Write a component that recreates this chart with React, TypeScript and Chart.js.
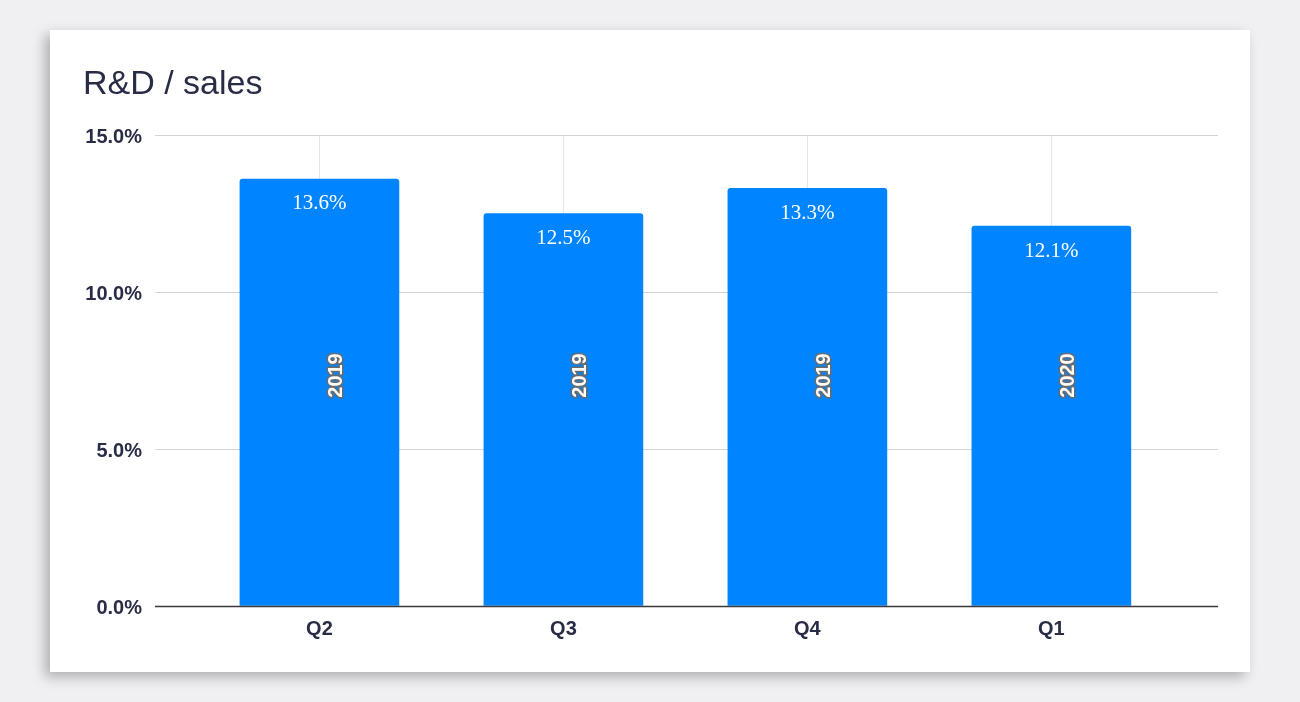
import React, { useEffect, useRef } from "react";
import { Chart, registerables } from "chart.js";

Chart.register(...registerables);

const TITLE = "R&D / sales";
const QUARTERS = ["Q2", "Q3", "Q4", "Q1"];
const YEARS = ["2019", "2019", "2019", "2020"];
const VALUES = [13.6, 12.5, 13.3, 12.1];
const Y_TICKS = [0, 5, 10, 15];

const TEXT_COLOR = "#282c45";
const BAR_COLOR = "#0084ff";
const SANS = "'Liberation Sans', Arial, sans-serif";
const SERIF = "'Liberation Serif', 'Times New Roman', serif";

const labelsPlugin = {
  id: "customLabels",
  afterDatasetsDraw(chart: any) {
    const ctx = chart.ctx;
    const area = chart.chartArea;
    const yScale = chart.scales.y;
    const y0 = Math.round(yScale.getPixelForValue(0)) + 0.5;
    ctx.save();
    ctx.strokeStyle = "#3a3a3a";
    ctx.lineWidth = 1.5;
    ctx.beginPath();
    ctx.moveTo(area.left, y0);
    ctx.lineTo(area.right, y0);
    ctx.stroke();

    const meta = chart.getDatasetMeta(0);
    meta.data.forEach((bar: any, i: number) => {
      ctx.font = `21px ${SERIF}`;
      ctx.fillStyle = "#ffffff";
      ctx.textAlign = "center";
      ctx.textBaseline = "middle";
      ctx.fillText(VALUES[i].toFixed(1) + "%", bar.x, bar.y + 25);
      const cy = (area.top + area.bottom) / 2 + 5;
      ctx.save();
      ctx.translate(bar.x + 17, cy);
      ctx.rotate(-Math.PI / 2);
      ctx.font = `bold 20px ${SANS}`;
      ctx.lineJoin = "round";
      ctx.strokeStyle = "#6a6a6a";
      ctx.lineWidth = 3;
      ctx.strokeText(YEARS[i], 0, 0);
      ctx.fillStyle = "#ffffff";
      ctx.fillText(YEARS[i], 0, 0);
      ctx.restore();
    });
    ctx.restore();
  },
  afterDraw(chart: any) {
    const ctx = chart.ctx;
    ctx.save();
    ctx.font = `34px ${SANS}`;
    ctx.fillStyle = TEXT_COLOR;
    ctx.textAlign = "left";
    ctx.textBaseline = "alphabetic";
    ctx.fillText(TITLE, 33, 64);
    ctx.restore();
  },
};

export default function App() {
  const canvasRef = useRef<HTMLCanvasElement | null>(null);

  useEffect(() => {
    if (!canvasRef.current) return;
    const chart = new Chart(canvasRef.current, {
      type: "bar",
      data: {
        datasets: [
          {
            data: VALUES.map((v, i) => ({ x: i, y: v })),
            backgroundColor: BAR_COLOR,
            barThickness: 159,
            borderRadius: 3,
            borderSkipped: "start",
          },
        ],
      },
      options: {
        animation: false,
        responsive: false,
        devicePixelRatio: 1,
        layout: { padding: { top: 105, right: 32, left: 0, bottom: 0 } },
        plugins: {
          legend: { display: false },
          title: { display: false },
          tooltip: { enabled: false },
        },
        scales: {
          x: {
            type: "linear",
            offset: false,
            min: -0.674,
            max: 3.683,
            afterBuildTicks: (scale: any) => {
              scale.ticks = QUARTERS.map((_, i) => ({ value: i }));
            },
            afterFit: (scale: any) => {
              scale.height = 66;
            },
            ticks: {
              autoSkip: false,
              maxRotation: 0,
              padding: 11,
              color: TEXT_COLOR,
              font: { family: SANS, size: 20, weight: "bold" },
              callback: (v: any) => QUARTERS[v as number] ?? "",
            },
            grid: { color: "#e6e6e6", drawTicks: false, offset: false },
            border: { display: false },
          },
          y: {
            min: 0,
            max: 15,
            afterBuildTicks: (scale: any) => {
              scale.ticks = Y_TICKS.map((v) => ({ value: v }));
            },
            afterFit: (scale: any) => {
              scale.width = 105;
            },
            ticks: {
              padding: 13,
              labelOffset: 2,
              color: TEXT_COLOR,
              font: { family: SANS, size: 20, weight: "bold" },
              callback: (v: any) => Number(v).toFixed(1) + "%",
            },
            grid: {
              drawTicks: false,
              color: (c: any) => (c.tick && c.tick.value === 0 ? "#3a3a3a" : "#d4d4d4"),
            },
            border: { display: false },
          },
        },
      },
      plugins: [labelsPlugin],
    });
    return () => chart.destroy();
  }, []);

  return (
    <div
      style={{
        position: "absolute",
        left: 0,
        top: 0,
        width: 1300,
        height: 702,
        background: "#f0f0f2",
        overflow: "hidden",
      }}
    >
      <div
        style={{
          position: "absolute",
          left: 50,
          top: 30,
          width: 1200,
          height: 642,
          background: "#ffffff",
          boxShadow: "-5px 5px 12px rgba(0,0,0,0.28)",
        }}
      >
        <canvas ref={canvasRef} width={1200} height={642} style={{ display: "block" }} />
      </div>
    </div>
  );
}
